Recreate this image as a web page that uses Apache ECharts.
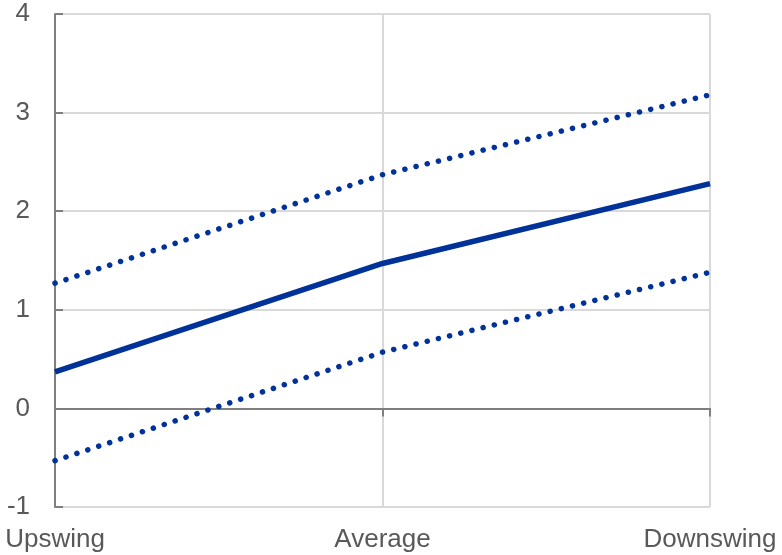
<!DOCTYPE html>
<html>
<head>
<meta charset="utf-8">
<script src="https://cdn.jsdelivr.net/npm/echarts@6/dist/echarts.min.js"></script>
<style>
  html, body { margin: 0; padding: 0; background: #fff; }
  #chart { width: 782px; height: 555px; }
</style>
</head>
<body>
<div id="chart"></div>
<script>
// Phases of the cycle along the horizontal axis
const categories = ['Upswing', 'Average', 'Downswing'];
// Central estimate and the upper / lower bands
const central = [0.37, 1.47, 2.28];
const upperBand = [1.27, 2.37, 3.18];
const lowerBand = [-0.53, 0.57, 1.38];
// Value axis range
const yMin = -1;
const yMax = 4;
const yStep = 1;

const blue = '#003299';
const axisGrey = '#7f7f7f';
const gridGrey = '#d9d9d9';
const textGrey = '#595959';
const font = 'Liberation Sans, Arial, sans-serif';

const chart = echarts.init(document.getElementById('chart'), null, { renderer: 'canvas' });

const dotted = {
  width: 5.5,
  color: blue,
  type: [0.1, 11.4],
  cap: 'round'
};

chart.setOption({
  animation: false,
  grid: { left: 55, right: 72, top: 14, bottom: 48, containLabel: false },
  xAxis: [
    {
      type: 'category',
      data: categories,
      boundaryGap: false,
      position: 'bottom',
      axisLine: { show: false, onZero: false },
      axisTick: { show: false },
      axisLabel: { color: textGrey, fontSize: 26, fontFamily: font, margin: 20 },
      splitLine: { show: true, lineStyle: { color: gridGrey, width: 2 } }
    },
    {
      // zero line with its tick marks
      type: 'category',
      data: categories,
      boundaryGap: false,
      position: 'top',
      axisLine: { show: true, onZero: true, lineStyle: { color: axisGrey, width: 2 } },
      axisTick: { show: true, inside: true, length: 8, lineStyle: { color: axisGrey, width: 2 } },
      axisLabel: { show: false },
      splitLine: { show: false }
    }
  ],
  yAxis: {
    type: 'value',
    min: yMin,
    max: yMax,
    interval: yStep,
    axisLine: { show: true, lineStyle: { color: axisGrey, width: 2 } },
    axisTick: { show: true, inside: true, length: 8, lineStyle: { color: axisGrey, width: 2 } },
    axisLabel: { color: textGrey, fontSize: 26, fontFamily: font, margin: 25 },
    splitLine: { show: true, lineStyle: { color: gridGrey, width: 2 } }
  },
  series: [
    {
      name: 'Upper',
      type: 'line',
      data: upperBand,
      showSymbol: false,
      lineStyle: dotted,
      z: 3
    },
    {
      name: 'Lower',
      type: 'line',
      data: lowerBand,
      showSymbol: false,
      lineStyle: dotted,
      z: 3
    },
    {
      name: 'Central',
      type: 'line',
      data: central,
      showSymbol: false,
      lineStyle: { width: 5.5, color: blue },
      z: 4
    }
  ]
});
</script>
</body>
</html>
